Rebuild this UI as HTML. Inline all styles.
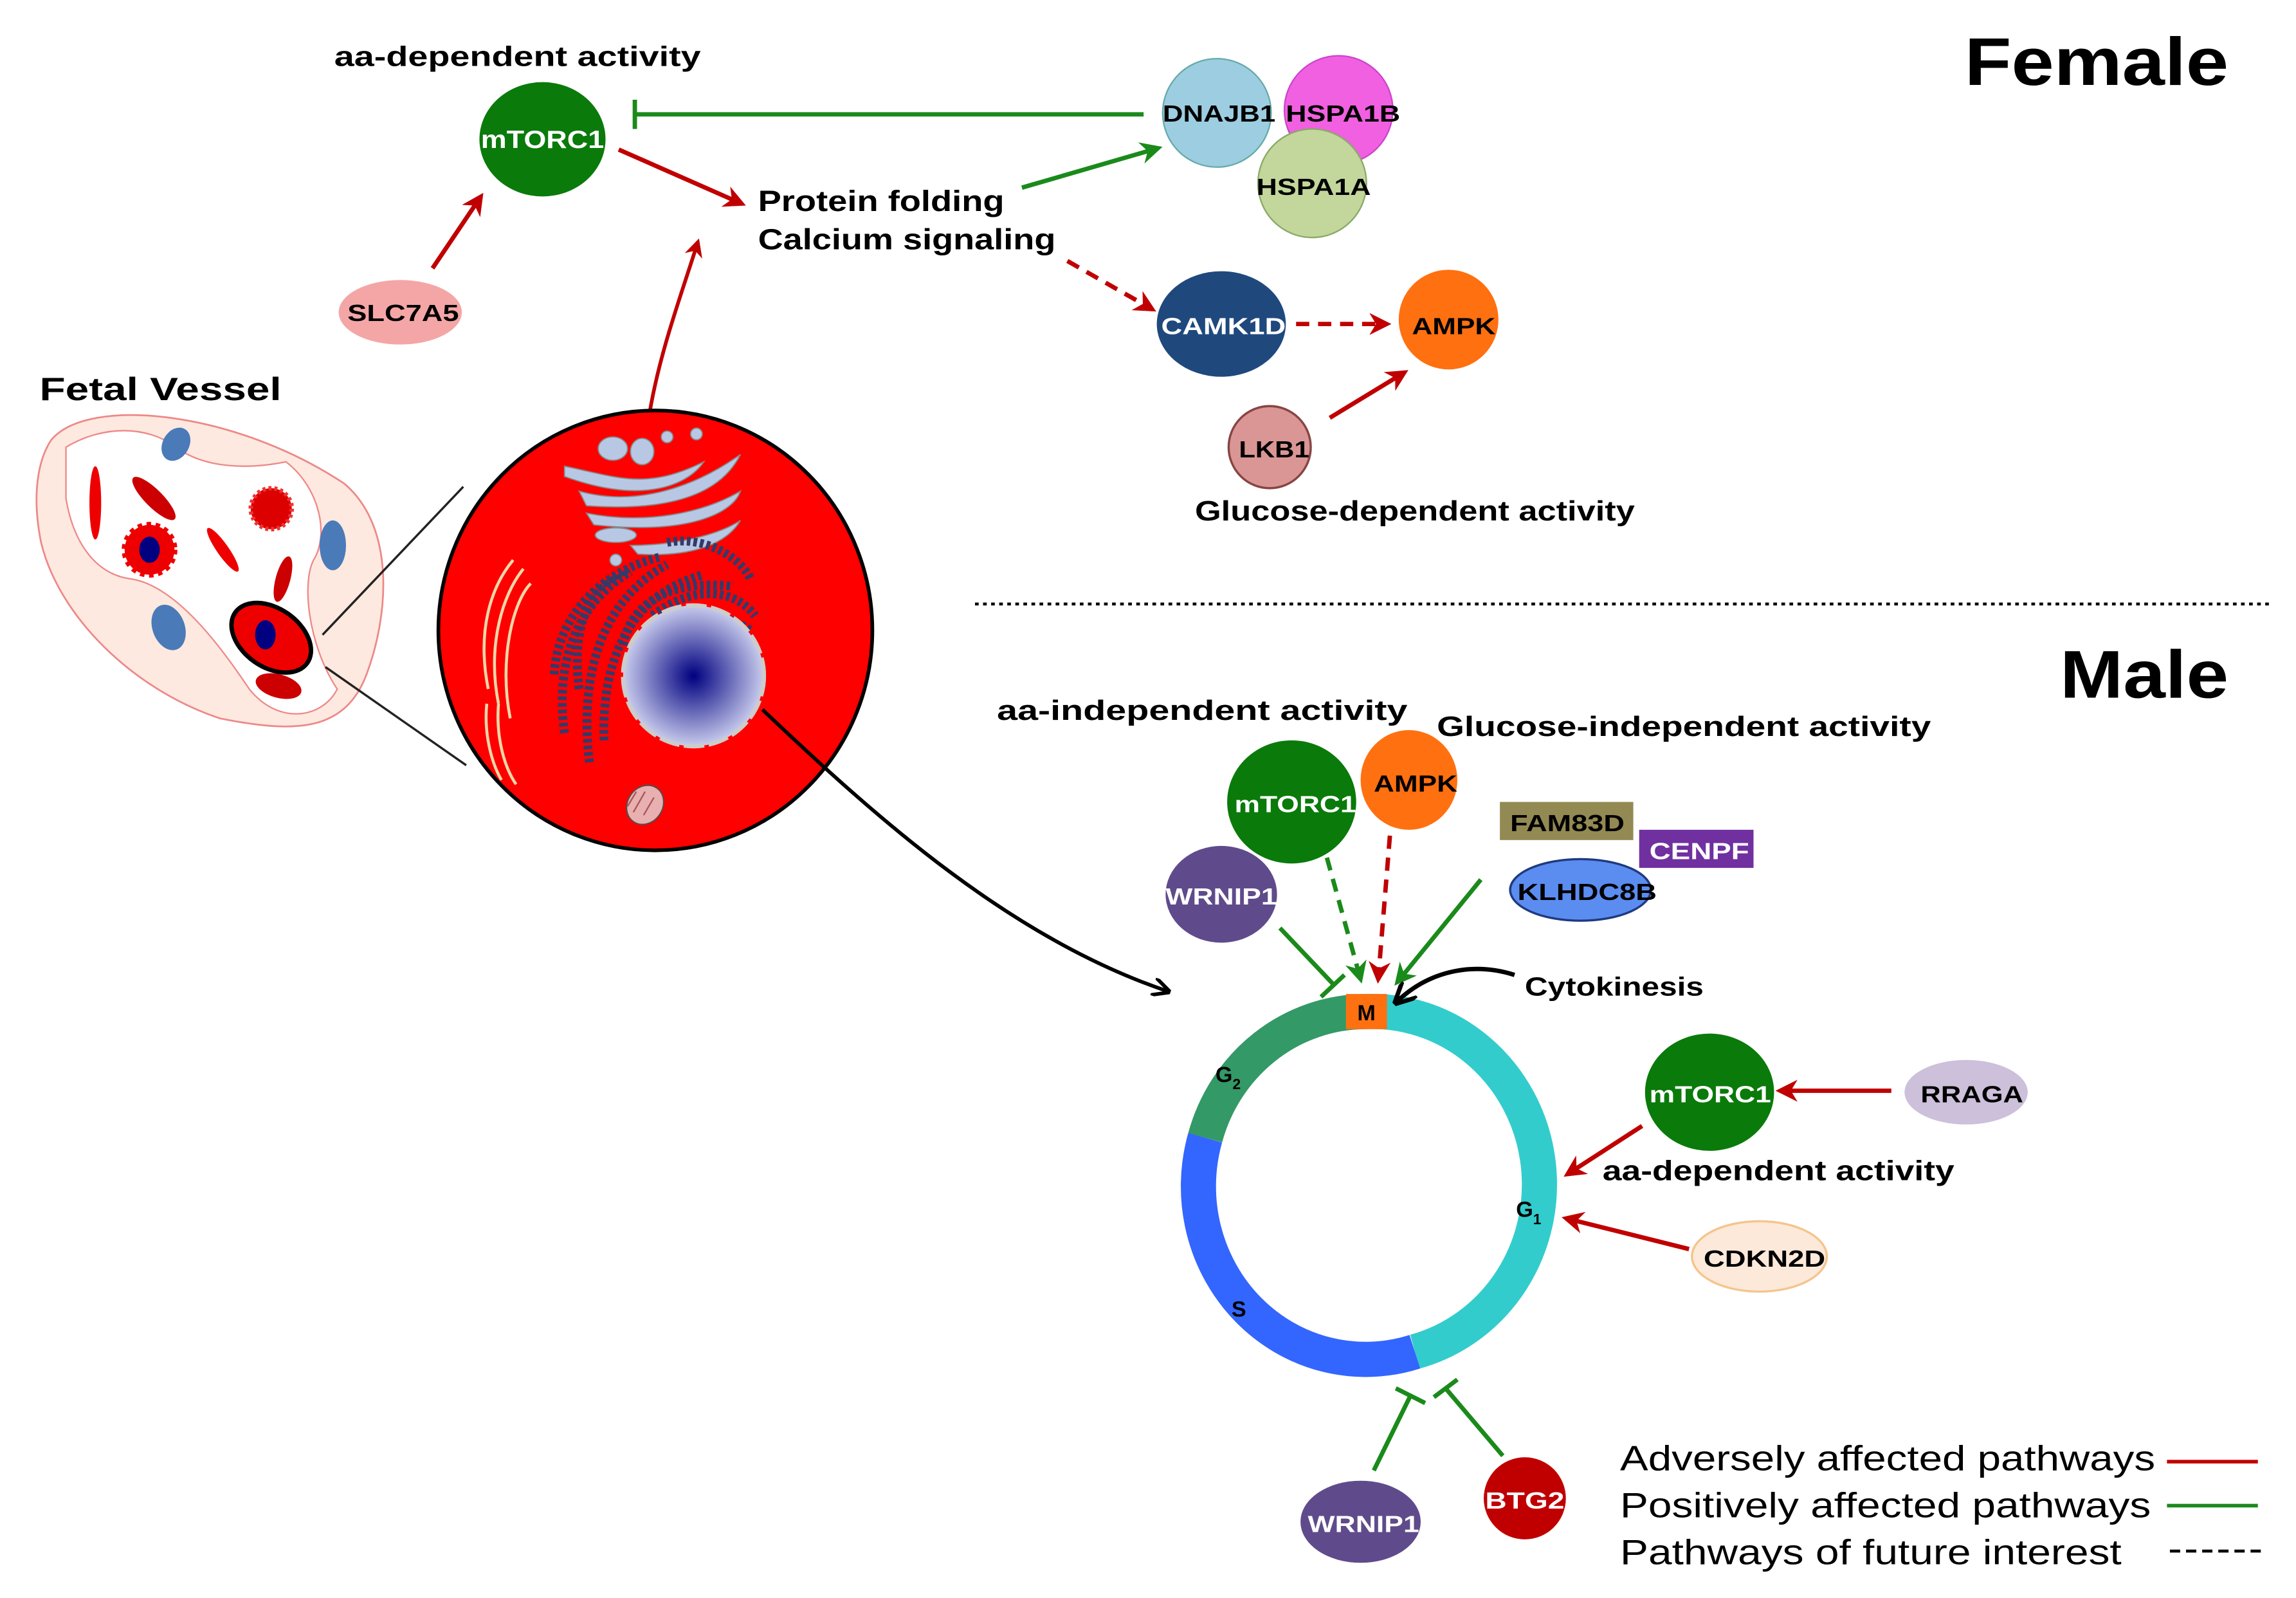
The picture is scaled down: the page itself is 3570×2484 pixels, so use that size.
<!DOCTYPE html>
<html><head><meta charset="utf-8"><style>
html,body{margin:0;padding:0;background:#fff;}
svg{display:block;}
text{font-family:"Liberation Sans",Arial,sans-serif;font-weight:bold;}
</style></head><body>
<svg width="3570" height="2484" viewBox="0 0 1566 1090" preserveAspectRatio="none" xmlns="http://www.w3.org/2000/svg">
<defs>
<marker id="ar" viewBox="0 0 10 10" refX="8" refY="5" markerWidth="5" markerHeight="5" orient="auto"><path d="M0,0 L10,5 L0,10 L3,5 z" fill="#c00000"/></marker>
<marker id="ag" viewBox="0 0 10 10" refX="8" refY="5" markerWidth="5" markerHeight="5" orient="auto"><path d="M0,0 L10,5 L0,10 L3,5 z" fill="#1a8a1a"/></marker>
<marker id="ak" viewBox="0 0 10 10" refX="8" refY="5" markerWidth="5" markerHeight="5" orient="auto"><path d="M0,0 L10,5 L0,10" fill="none" stroke="#000" stroke-width="2"/></marker>
<radialGradient id="nuc" cx="50%" cy="50%" r="50%"><stop offset="0" stop-color="#000080"/><stop offset="1" stop-color="#c8cbec"/></radialGradient>
</defs>

<!-- FEMALE -->
<text x="1340" y="58" font-size="46" textLength="180" lengthAdjust="spacingAndGlyphs">Female</text>
<text x="228" y="45" font-size="19" textLength="250" lengthAdjust="spacingAndGlyphs">aa-dependent  activity</text>
<line x1="780" y1="78" x2="433" y2="78" stroke="#1a8a1a" stroke-width="3"/>
<line x1="433" y1="68" x2="433" y2="88" stroke="#1a8a1a" stroke-width="3"/>
<ellipse cx="370" cy="95" rx="43" ry="39" fill="#0a7a0a"/>
<text x="328" y="101" font-size="17" fill="#fff" textLength="84" lengthAdjust="spacingAndGlyphs">mTORC1</text>
<ellipse cx="273" cy="213" rx="42" ry="22" fill="#f4a6a6"/>
<text x="237" y="219" font-size="16" textLength="76" lengthAdjust="spacingAndGlyphs">SLC7A5</text>
<line x1="295" y1="183" x2="328" y2="134" stroke="#c00000" stroke-width="3" marker-end="url(#ar)"/>
<line x1="422" y1="102" x2="506" y2="139" stroke="#c00000" stroke-width="3" marker-end="url(#ar)"/>
<text x="517" y="144" font-size="20" textLength="168" lengthAdjust="spacingAndGlyphs">Protein folding</text>
<text x="517" y="170" font-size="20" textLength="203" lengthAdjust="spacingAndGlyphs">Calcium signaling</text>
<line x1="697" y1="128" x2="790" y2="101" stroke="#1a8a1a" stroke-width="3" marker-end="url(#ag)"/>
<circle cx="830" cy="77" r="37" fill="#9dcde0" stroke="#6aa" stroke-width="1"/>
<circle cx="913" cy="75" r="37" fill="#f060e0" stroke="#c4c" stroke-width="1"/>
<circle cx="895" cy="125" r="37" fill="#c3d69b" stroke="#8a6" stroke-width="1"/>
<text x="793" y="83" font-size="16" textLength="77" lengthAdjust="spacingAndGlyphs">DNAJB1</text>
<text x="877" y="83" font-size="16" textLength="78" lengthAdjust="spacingAndGlyphs">HSPA1B</text>
<text x="857" y="133" font-size="16" textLength="78" lengthAdjust="spacingAndGlyphs">HSPA1A</text>
<line x1="728" y1="178" x2="786" y2="211" stroke="#c00000" stroke-width="3" stroke-dasharray="9,6" marker-end="url(#ar)"/>
<ellipse cx="833" cy="221" rx="44" ry="36" fill="#1f497d"/>
<text x="792" y="228" font-size="16" fill="#fff" textLength="85" lengthAdjust="spacingAndGlyphs">CAMK1D</text>
<line x1="884" y1="221" x2="946" y2="221" stroke="#c00000" stroke-width="3" stroke-dasharray="9,6" marker-end="url(#ar)"/>
<circle cx="988" cy="218" r="34" fill="#ff7010"/>
<text x="963" y="228" font-size="16" textLength="57" lengthAdjust="spacingAndGlyphs">AMPK</text>
<circle cx="866" cy="305" r="28" fill="#d99694" stroke="#844" stroke-width="1.5"/>
<text x="845" y="312" font-size="16" textLength="48" lengthAdjust="spacingAndGlyphs">LKB1</text>
<line x1="907" y1="285" x2="958" y2="254" stroke="#c00000" stroke-width="3" marker-end="url(#ar)"/>
<text x="815" y="355" font-size="19" textLength="300" lengthAdjust="spacingAndGlyphs">Glucose-dependent activity</text>

<!-- Fetal vessel -->
<text x="27" y="273" font-size="22" textLength="165" lengthAdjust="spacingAndGlyphs">Fetal Vessel</text>
<path d="M35,300 C60,270 160,280 235,330 C270,360 265,420 250,460 C235,500 200,500 150,490 C90,470 40,420 28,370 C22,340 25,315 35,300 Z" fill="#fde9df" stroke="#e88" stroke-width="1.2"/>
<path d="M45,305 C70,290 100,290 120,305 C140,320 170,320 195,315 C215,330 225,360 215,380 C205,395 210,440 230,470 C220,490 190,495 170,470 C150,440 120,400 90,395 C65,392 50,370 45,340 Z" fill="#fff" stroke="#e88" stroke-width="1"/>
<ellipse cx="120" cy="303" rx="9" ry="12" fill="#4a7ab8" transform="rotate(30 120 303)"/>
<ellipse cx="227" cy="372" rx="9" ry="17" fill="#4a7ab8"/>
<ellipse cx="115" cy="428" rx="11" ry="16" fill="#4a7ab8" transform="rotate(-20 115 428)"/>
<ellipse cx="65" cy="343" rx="4" ry="25" fill="#e00"/>
<ellipse cx="105" cy="340" rx="6" ry="20" fill="#c00" transform="rotate(-45 105 340)"/>
<circle cx="185" cy="347" r="14" fill="#d00" stroke="#e33" stroke-width="3" stroke-dasharray="2,2"/>
<circle cx="102" cy="375" r="17" fill="#e00" stroke="#e00" stroke-width="4" stroke-dasharray="3,3"/>
<ellipse cx="102" cy="375" rx="7" ry="9" fill="#000080"/>
<ellipse cx="152" cy="375" rx="4" ry="18" fill="#e00" transform="rotate(-35 152 375)"/>
<ellipse cx="193" cy="395" rx="5" ry="16" fill="#c00" transform="rotate(15 193 395)"/>
<ellipse cx="185" cy="435" rx="30" ry="20" fill="#e00" stroke="#000" stroke-width="3" transform="rotate(35 185 435)"/>
<ellipse cx="181" cy="433" rx="7" ry="10" fill="#000080"/>
<ellipse cx="190" cy="468" rx="16" ry="8" fill="#c00" transform="rotate(15 190 468)"/>
<line x1="220" y1="433" x2="316" y2="332" stroke="#222" stroke-width="1.5"/>
<line x1="222" y1="455" x2="318" y2="522" stroke="#222" stroke-width="1.5"/>

<!-- Cell -->
<path d="M443,282 C450,240 465,200 476,165" fill="none" stroke="#c00000" stroke-width="2.5" marker-end="url(#ar)"/>
<ellipse cx="447" cy="430" rx="148" ry="150" fill="#ff0000" stroke="#000" stroke-width="2.5"/>
<g fill="#b8c8e4" stroke="#888" stroke-width="0.8">
<ellipse cx="418" cy="306" rx="10" ry="8"/>
<ellipse cx="438" cy="308" rx="8" ry="9"/>
<circle cx="455" cy="298" r="4"/><circle cx="475" cy="296" r="4"/>
<path d="M385,318 C420,325 440,335 480,315 C470,330 440,345 385,325 Z"/>
<path d="M395,335 C430,345 470,335 505,310 C495,330 470,350 400,345 Z"/>
<path d="M400,350 C440,358 480,350 505,335 C500,350 470,365 405,358 Z"/>
<ellipse cx="420" cy="365" rx="14" ry="5"/>
<path d="M430,372 C460,372 490,365 505,355 C495,372 470,380 435,378 Z"/>
<circle cx="420" cy="382" r="4"/>
</g>
<g fill="none" stroke="#333a6a" stroke-width="6" stroke-dasharray="2.5,2">
<path d="M395,470 C390,430 400,405 420,395"/>
<path d="M385,500 C378,450 395,410 430,390"/>
<path d="M378,460 C380,420 410,390 450,380"/>
<path d="M402,520 C395,460 410,410 455,385"/>
<path d="M412,505 C410,450 430,405 480,392"/>
<path d="M425,440 C430,410 460,395 500,400"/>
<path d="M445,420 C470,400 500,400 515,420"/>
<path d="M455,370 C480,365 505,380 512,395"/>
<path d="M435,445 C450,420 480,410 512,430"/>
</g>
<g fill="none" stroke="#f3d7a8" stroke-width="2">
<path d="M333,470 C325,430 335,400 350,382"/>
<path d="M340,480 C332,440 343,405 357,388"/>
<path d="M348,490 C340,450 350,410 362,398"/>
<path d="M332,480 C330,500 335,520 342,532"/>
<path d="M340,480 C338,505 345,525 352,535"/>
</g>
<ellipse cx="473" cy="461" rx="48" ry="48" fill="url(#nuc)" stroke="#ccc" stroke-width="3" stroke-dasharray="14,3"/>
<ellipse cx="440" cy="549" rx="12" ry="14" fill="#e8b0b0" stroke="#644" stroke-width="1" transform="rotate(35 440 549)"/>
<path d="M434,540 l-6,10 M440,540 l-8,14 M446,544 l-7,12" stroke="#a55" stroke-width="1"/>
<path d="M520,484 C600,560 690,640 796,676" fill="none" stroke="#000" stroke-width="2.5" marker-end="url(#ak)"/>

<!-- separator -->
<line x1="665" y1="412" x2="1550" y2="412" stroke="#000" stroke-width="2" stroke-dasharray="2.5,3"/>

<!-- MALE -->
<text x="1405" y="476" font-size="46" textLength="115" lengthAdjust="spacingAndGlyphs">Male</text>
<text x="680" y="491" font-size="19" textLength="280" lengthAdjust="spacingAndGlyphs">aa-independent  activity</text>
<text x="980" y="502" font-size="19" textLength="337" lengthAdjust="spacingAndGlyphs">Glucose-independent  activity</text>

<line x1="873" y1="633" x2="910" y2="672" stroke="#1a8a1a" stroke-width="3"/>
<line x1="901" y1="680" x2="917" y2="665" stroke="#1a8a1a" stroke-width="3"/>
<line x1="905" y1="585" x2="928" y2="668" stroke="#1a8a1a" stroke-width="3" stroke-dasharray="9,6" marker-end="url(#ag)"/>
<line x1="948" y1="570" x2="940" y2="668" stroke="#c00000" stroke-width="3" stroke-dasharray="9,6" marker-end="url(#ar)"/>
<line x1="1010" y1="600" x2="953" y2="670" stroke="#1a8a1a" stroke-width="3" marker-end="url(#ag)"/>

<ellipse cx="881" cy="547" rx="44" ry="42" fill="#0a7a0a"/>
<text x="842" y="554" font-size="16" fill="#fff" textLength="83" lengthAdjust="spacingAndGlyphs">mTORC1</text>
<ellipse cx="961" cy="532" rx="33" ry="34" fill="#ff7010"/>
<text x="937" y="540" font-size="16" textLength="57" lengthAdjust="spacingAndGlyphs">AMPK</text>
<ellipse cx="833" cy="610" rx="38" ry="33" fill="#5f4b8b"/>
<text x="795" y="617" font-size="16" fill="#fff" textLength="76" lengthAdjust="spacingAndGlyphs">WRNIP1</text>
<rect x="1023" y="547" width="91" height="26" fill="#938953"/>
<text x="1030" y="567" font-size="16" textLength="78" lengthAdjust="spacingAndGlyphs">FAM83D</text>
<rect x="1118" y="566" width="78" height="26" fill="#7030a0"/>
<text x="1125" y="586" font-size="16" fill="#fff" textLength="68" lengthAdjust="spacingAndGlyphs">CENPF</text>
<ellipse cx="1078" cy="607" rx="48" ry="21" fill="#5b8cf0" stroke="#1f3a80" stroke-width="1.5"/>
<text x="1035" y="614" font-size="16" textLength="95" lengthAdjust="spacingAndGlyphs">KLHDC8B</text>

<!-- cycle ring -->
<g fill="none" stroke-width="24">
<path d="M931,690 A114,118 0 0 1 965,922" stroke="#33cccc"/>
<path d="M965,922 A114,118 0 0 1 822,776" stroke="#3366ff"/>
<path d="M822,776 A114,118 0 0 1 931,690" stroke="#339966"/>
</g>
<rect x="918" y="678" width="28" height="24" fill="#ff7010"/>
<text x="932" y="696" font-size="15" text-anchor="middle">M</text>
<text x="829" y="738" font-size="15">G<tspan font-size="10" dy="5">2</tspan></text>
<text x="1034" y="830" font-size="15">G<tspan font-size="10" dy="5">1</tspan></text>
<text x="840" y="898" font-size="15">S</text>
<path d="M1033,665 C1005,656 975,662 953,683" fill="none" stroke="#000" stroke-width="3" marker-end="url(#ak)"/>
<text x="1040" y="679" font-size="18" textLength="122" lengthAdjust="spacingAndGlyphs">Cytokinesis</text>

<line x1="1290" y1="744" x2="1214" y2="744" stroke="#c00000" stroke-width="3" marker-end="url(#ar)"/>
<ellipse cx="1166" cy="745" rx="44" ry="40" fill="#0a7a0a"/>
<text x="1125" y="752" font-size="16" fill="#fff" textLength="83" lengthAdjust="spacingAndGlyphs">mTORC1</text>
<ellipse cx="1341" cy="745" rx="42" ry="22" fill="#ccc0da"/>
<text x="1310" y="752" font-size="16" textLength="70" lengthAdjust="spacingAndGlyphs">RRAGA</text>
<line x1="1120" y1="768" x2="1069" y2="801" stroke="#c00000" stroke-width="3" marker-end="url(#ar)"/>
<text x="1093" y="805" font-size="19" textLength="240" lengthAdjust="spacingAndGlyphs">aa-dependent activity</text>
<line x1="1152" y1="852" x2="1068" y2="831" stroke="#c00000" stroke-width="3" marker-end="url(#ar)"/>
<ellipse cx="1200" cy="857" rx="46" ry="24" fill="#fde9d9" stroke="#f4c58e" stroke-width="1.5"/>
<text x="1162" y="864" font-size="16" textLength="83" lengthAdjust="spacingAndGlyphs">CDKN2D</text>

<line x1="937" y1="1003" x2="962" y2="952" stroke="#1a8a1a" stroke-width="3"/>
<line x1="952" y1="947" x2="972" y2="957" stroke="#1a8a1a" stroke-width="3"/>
<line x1="1025" y1="993" x2="986" y2="947" stroke="#1a8a1a" stroke-width="3"/>
<line x1="978" y1="953" x2="994" y2="941" stroke="#1a8a1a" stroke-width="3"/>
<ellipse cx="928" cy="1038" rx="41" ry="28" fill="#5f4b8b"/>
<text x="892" y="1045" font-size="16" fill="#fff" textLength="76" lengthAdjust="spacingAndGlyphs">WRNIP1</text>
<circle cx="1040" cy="1022" r="28" fill="#c00000"/>
<text x="1013" y="1029" font-size="16" fill="#fff" textLength="54" lengthAdjust="spacingAndGlyphs">BTG2</text>

<!-- legend -->
<text x="1105" y="1003" font-size="24" style="font-weight:normal" textLength="365" lengthAdjust="spacingAndGlyphs">Adversely affected pathways</text>
<text x="1105" y="1035" font-size="24" style="font-weight:normal" textLength="362" lengthAdjust="spacingAndGlyphs">Positively affected pathways</text>
<text x="1105" y="1067" font-size="24" style="font-weight:normal" textLength="342" lengthAdjust="spacingAndGlyphs">Pathways of future interest</text>
<line x1="1478" y1="997" x2="1540" y2="997" stroke="#c00000" stroke-width="2.5"/>
<line x1="1478" y1="1027" x2="1540" y2="1027" stroke="#1a8a1a" stroke-width="2.5"/>
<line x1="1480" y1="1058" x2="1543" y2="1058" stroke="#000" stroke-width="2" stroke-dasharray="7,4"/>
</svg>
</body></html>
